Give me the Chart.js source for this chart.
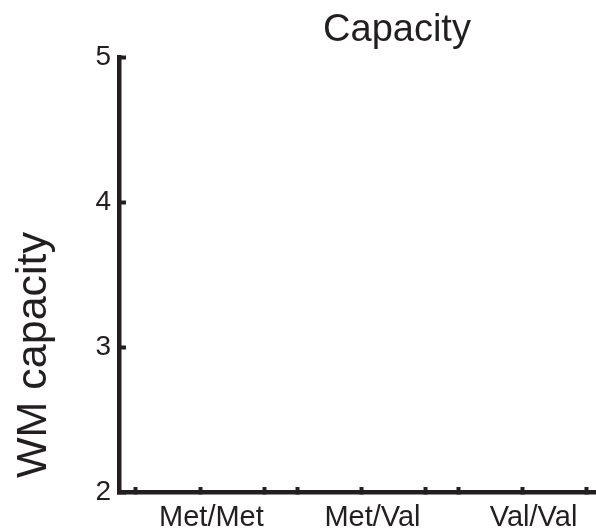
<!DOCTYPE html>
<html>
<head>
<meta charset="utf-8">
<script src="https://cdn.jsdelivr.net/npm/chart.js@4"></script>
<style>
  html, body { margin: 0; padding: 0; background: #fff; }
  #wrap { width: 596px; height: 529px; }
</style>
</head>
<body>
<div id="wrap"><canvas id="chart"></canvas></div>
<script>
// chart data
var categories = ['Met/Met', 'Met/Val', 'Val/Val'];
var categoryPos = [2, 4.5, 7];
var tickMarks = [1, 2, 3, 3.5, 4.5, 5.5, 6, 7, 8];
var yTicks = [2, 3, 4, 5];
var capacity = []; // nothing is plotted in the reference, only the axes

var ink = '#231f20';
var fontFamily = '"Liberation Sans", Arial, Helvetica, sans-serif';

// figure title and y-axis label, placed like the original figure
var titlesPlugin = {
    id: 'titles',
    afterDraw: function(chart) {
        var ctx = chart.ctx;
        ctx.save();
        ctx.fillStyle = ink;
        ctx.textAlign = 'center';
        ctx.textBaseline = 'alphabetic';
        ctx.font = '38px ' + fontFamily;
        ctx.fillText('Capacity', 397, 41);
        ctx.translate(46, 355);
        ctx.rotate(-Math.PI / 2);
        ctx.font = '43px ' + fontFamily;
        ctx.fillText('WM capacity', 0, 0);
        ctx.restore();
    }
};

var ctx = document.getElementById('chart').getContext('2d');
var chart = new Chart(ctx, {
    type: 'scatter',
    data: {
        datasets: [{ label: 'Capacity', data: capacity, pointRadius: 0 }]
    },
    options: {
        responsive: true,
        maintainAspectRatio: false,
        animation: false,
        layout: { padding: { left: 0, top: 57, right: 0, bottom: 0 } },
        plugins: {
            legend: { display: false },
            tooltip: { enabled: false }
        },
        scales: {
            x: {
                type: 'linear',
                position: 'bottom',
                min: 0.744,
                max: 8.14,
                afterBuildTicks: function(scale) {
                    scale.ticks = tickMarks.map(function(v) { return { value: v }; });
                },
                afterFit: function(scale) {
                    scale.height = 36.5;
                    scale.paddingLeft = 0;
                    scale.paddingRight = 0;
                },
                ticks: {
                    autoSkip: false,
                    maxRotation: 0,
                    padding: 16,
                    labelOffset: 11,
                    color: ink,
                    font: { family: fontFamily, size: 29, lineHeight: 1 },
                    callback: function(value) {
                        var i = categoryPos.indexOf(value);
                        return i >= 0 ? categories[i] : '';
                    }
                },
                grid: {
                    drawOnChartArea: false,
                    drawTicks: true,
                    tickLength: -5.5,
                    tickWidth: 4,
                    tickColor: ink
                },
                border: { display: true, width: 4.5, color: ink }
            },
            y: {
                position: 'left',
                min: 2,
                max: 5,
                afterBuildTicks: function(scale) {
                    scale.ticks = yTicks.map(function(v) { return { value: v }; });
                },
                afterFit: function(scale) { scale.width = 119.5; },
                ticks: {
                    padding: 15,
                    color: ink,
                    font: { family: fontFamily, size: 28 }
                },
                grid: {
                    drawOnChartArea: false,
                    drawTicks: true,
                    tickLength: -6.5,
                    tickWidth: 4,
                    tickColor: ink
                },
                border: { display: true, width: 4.5, color: ink }
            }
        }
    },
    plugins: [titlesPlugin]
});
</script>
</body>
</html>
